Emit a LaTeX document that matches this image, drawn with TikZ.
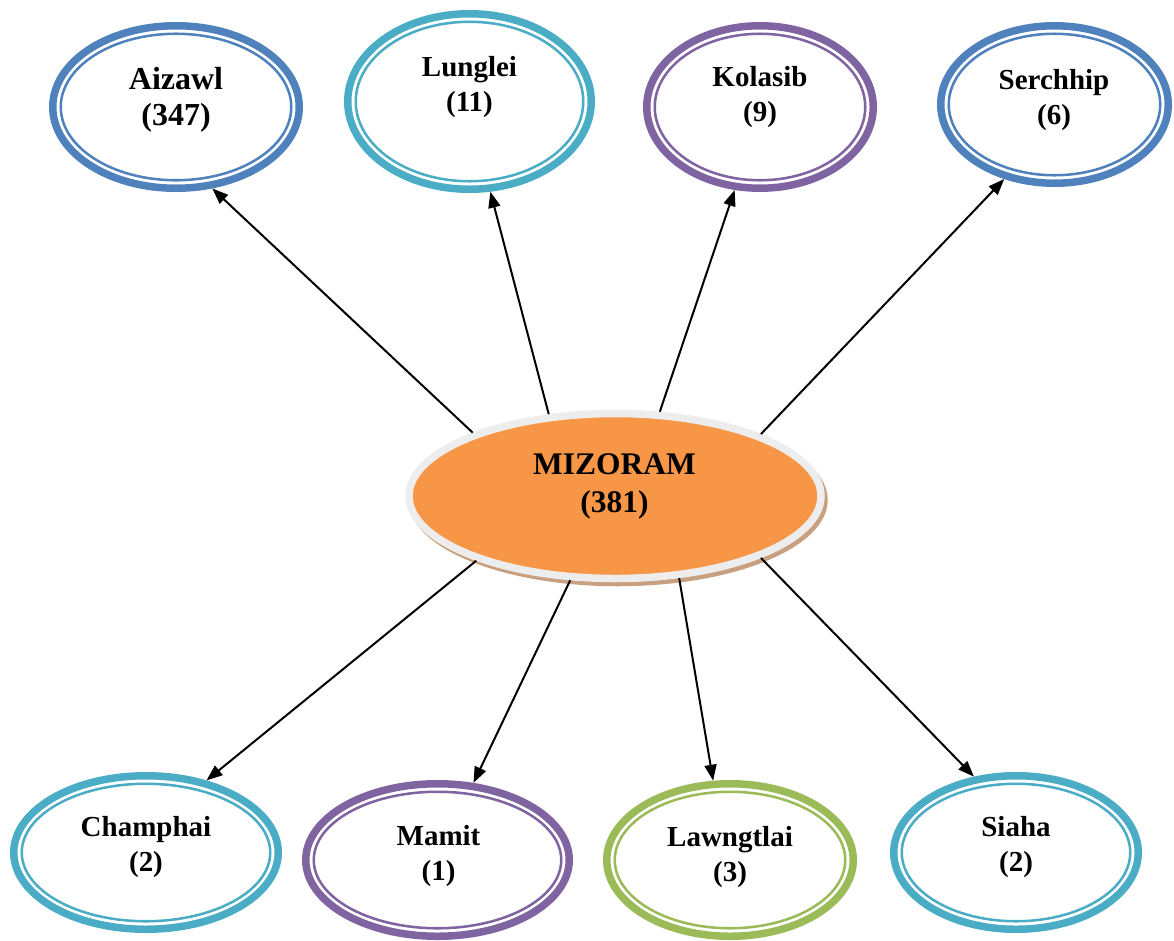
\documentclass[tikz,border=0pt]{standalone}
\usepackage{fontspec}
\setmainfont{Liberation Serif}
\usetikzlibrary{shapes.geometric,arrows.meta}

\definecolor{bluec}{HTML}{4F81BD}
\definecolor{tealc}{HTML}{4BACC6}
\definecolor{purplec}{HTML}{8064A2}
\definecolor{greenc}{HTML}{9BBB59}
\definecolor{orangec}{HTML}{F79646}
\definecolor{greyc}{HTML}{EDEDED}
\definecolor{tanc}{HTML}{C9A07F}

\tikzset{every picture/.style={line width=0.75pt},
	ring/.style={ellipse, draw=#1, line width=5.625pt, inner sep=0pt},
	inner ring/.style={draw=#1, line width=1.9pt},
	lbl/.style={align=center, font=\bfseries\fontsize{21.75}{26.25}\selectfont},
	link/.style={-{Triangle[length=12pt,width=9pt]}, line width=1.5pt}}

\begin{document}
\begin{tikzpicture}[x=0.75pt,y=0.75pt,yscale=-1,xscale=1]
	\useasboundingbox (0,0) rectangle (1174,940);

	%Shape: Ellipse - shadow of the centre
	\draw [fill=tanc, draw=none] (618,500) ellipse (209.75 and 86.25);
	%Shape: Ellipse - centre
	\node [ellipse, draw=greyc, fill=orangec, line width=5.625pt, inner sep=0pt, minimum width=309pt, minimum height=123.75pt] (mizo) at (615,496) {};

	%Shape: Ellipse - Aizawl
	\node [ring=bluec, minimum width=184.875pt, minimum height=121.875pt] (aiz) at (176,107) {};
	\draw [inner ring=bluec] (176,107) ellipse (115.25 and 73.25);
	%Shape: Ellipse - Lunglei
	\node [ring=tealc, minimum width=182.625pt, minimum height=131.625pt] (lung) at (469.5,101.5) {};
	\draw [inner ring=tealc] (469.5,101.5) ellipse (113.75 and 79.75);
	%Shape: Ellipse - Kolasib
	\node [ring=purplec, minimum width=169.875pt, minimum height=121.875pt] (kol) at (760,107) {};
	\draw [inner ring=purplec] (760,107) ellipse (105.25 and 73.25);
	%Shape: Ellipse - Serchhip
	\node [ring=bluec, minimum width=170.625pt, minimum height=118.125pt] (ser) at (1054.5,104.5) {};
	\draw [inner ring=bluec] (1054.5,104.5) ellipse (105.75 and 70.75);

	%Shape: Ellipse - Champhai
	\node [ring=tealc, minimum width=198.375pt, minimum height=115.125pt] (cham) at (146,852.5) {};
	\draw [inner ring=tealc] (146,852.5) ellipse (124.25 and 68.75);
	%Shape: Ellipse - Mamit
	\node [ring=purplec, minimum width=197.625pt, minimum height=114.375pt] (mam) at (437.5,860) {};
	\draw [inner ring=purplec] (437.5,860) ellipse (123.75 and 68.25);
	%Shape: Ellipse - Lawngtlai
	\node [ring=greenc, minimum width=184.875pt, minimum height=114.375pt] (lawn) at (730,860) {};
	\draw [inner ring=greenc] (730,860) ellipse (115.25 and 68.25);
	%Shape: Ellipse - Siaha
	\node [ring=tealc, minimum width=183.375pt, minimum height=115.125pt] (sia) at (1016,852.5) {};
	\draw [inner ring=tealc] (1016,852.5) ellipse (114.25 and 68.75);

	%Straight Lines
	\draw [link] (mizo.156) -- (aiz.294);
	\draw [link] (mizo.129) -- (lung.283);
	\draw [link] (mizo.62) -- (kol.253);
	\draw [link] (mizo.23) -- (ser.236);
	\draw [link] (mizo.205) -- (cham.50);
	\draw [link] (mizo.242) -- (mam.65);
	\draw [link] (mizo.308) -- (lawn.102);
	\draw [link] (mizo.337) -- (sia.119);

	% Text Node
	\draw (614.5,486) node [lbl, font=\bfseries\fontsize{23.6}{28.5}\selectfont] (mizotxt) {MIZORAM\\(381)};
	% Text Node
	\draw (176,100) node [lbl, font=\bfseries\fontsize{24}{27}\selectfont] (aiztxt) {Aizawl\\(347)};
	% Text Node
	\draw (469.5,87) node [lbl] (lungtxt) {Lunglei\\(11)};
	% Text Node
	\draw (760,97.5) node [lbl] (koltxt) {Kolasib\\(9)};
	% Text Node
	\draw (1054,100) node [lbl] (sertxt) {Serchhip\\(6)};
	% Text Node
	\draw (146,847.5) node [lbl] (chamtxt) {Champhai\\(2)};
	% Text Node
	\draw (438.5,856.5) node [lbl] (mamtxt) {Mamit\\(1)};
	% Text Node
	\draw (730,857.5) node [lbl] (lawntxt) {Lawngtlai\\(3)};
	% Text Node
	\draw (1016,847.5) node [lbl] (siatxt) {Siaha\\(2)};

\end{tikzpicture}
\end{document}
